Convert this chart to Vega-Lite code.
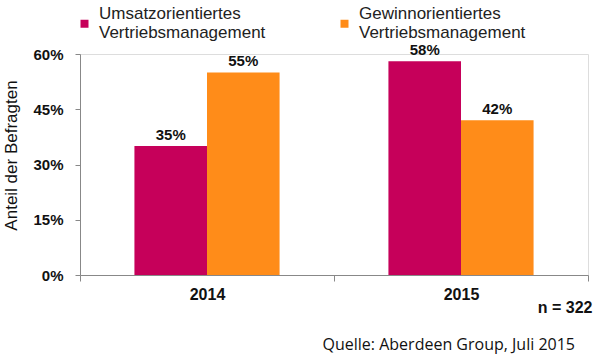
{
  "$schema": "https://vega.github.io/schema/vega-lite/v6.json",
  "width": 508,
  "height": 221,
  "autosize": {"type": "none"},
  "padding": {"left": 80, "top": 54, "right": 12, "bottom": 79},
  "background": "white",
  "title": {
    "text": "Quelle: Aberdeen Group, Juli 2015",
    "orient": "bottom",
    "anchor": "end",
    "frame": "group",
    "dx": -13,
    "font": "Open Sans",
    "fontSize": 16,
    "fontWeight": "normal",
    "color": "#111111",
    "offset": 22
  },
  "data": {
    "values": [
      {"Jahr": "2014", "Art": "Umsatzorientiertes Vertriebsmanagement", "Anteil": 0.35},
      {"Jahr": "2014", "Art": "Gewinnorientiertes Vertriebsmanagement", "Anteil": 0.55},
      {"Jahr": "2015", "Art": "Umsatzorientiertes Vertriebsmanagement", "Anteil": 0.58},
      {"Jahr": "2015", "Art": "Gewinnorientiertes Vertriebsmanagement", "Anteil": 0.42}
    ]
  },
  "encoding": {
    "x": {
      "field": "Jahr",
      "type": "nominal",
      "scale": {"paddingInner": 0, "paddingOuter": 0},
      "axis": {
        "title": "n = 322",
        "titleX": 512,
        "titleY": 37,
        "titleAlign": "right",
        "titleAnchor": null,
        "titleBaseline": "alphabetic",
        "titleFont": "Liberation Sans",
        "titleFontSize": 16,
        "titleFontWeight": "bold",
        "titleColor": "#111111",
        "labelAngle": 0,
        "labelFont": "Liberation Sans",
        "labelFontSize": 16,
        "labelFontWeight": "bold",
        "labelColor": "#111111",
        "labelPadding": 5,
        "tickBand": "extent",
        "tickSize": 6,
        "tickColor": "#888888",
        "domainColor": "#888888"
      }
    },
    "xOffset": {
      "field": "Art",
      "sort": ["Umsatzorientiertes Vertriebsmanagement", "Gewinnorientiertes Vertriebsmanagement"],
      "scale": {"paddingOuter": 0.75, "paddingInner": 0}
    },
    "y": {
      "field": "Anteil",
      "type": "quantitative",
      "scale": {"domain": [0, 0.6]},
      "axis": {
        "title": "Anteil der Befragten",
        "titleFont": "Liberation Sans",
        "titleFontSize": 17,
        "titleFontWeight": "normal",
        "titleColor": "#111111",
        "titleX": -60,
        "titleY": 101,
        "values": [0, 0.15, 0.3, 0.45, 0.6],
        "format": ".0%",
        "grid": false,
        "labelFont": "Liberation Sans",
        "labelFontSize": 15,
        "labelFontWeight": "bold",
        "labelColor": "#111111",
        "labelPadding": 12,
        "tickSize": 5,
        "tickColor": "#888888",
        "domainColor": "#888888"
      }
    }
  },
  "layer": [
    {
      "mark": {"type": "bar"},
      "encoding": {
        "color": {
          "field": "Art",
          "type": "nominal",
          "sort": ["Umsatzorientiertes Vertriebsmanagement", "Gewinnorientiertes Vertriebsmanagement"],
          "scale": {"range": ["#C6005A", "#FF8C19"]},
          "legend": {
            "title": null,
            "orient": "none",
            "legendX": -4,
            "legendY": -39,
            "direction": "horizontal",
            "columns": 2,
            "columnPadding": 70,
            "symbolType": "square",
            "symbolSize": 64,
            "symbolStrokeWidth": 0,
            "labelOffset": 6,
            "labelFont": "Liberation Sans",
            "labelFontSize": 17,
            "labelColor": "#222222",
            "labelLineHeight": 14,
            "labelBaseline": "line-bottom",
            "labelLimit": 300,
            "labelExpr": "split(datum.label, ' ')"
          }
        }
      }
    },
    {
      "mark": {
        "type": "text",
        "baseline": "alphabetic",
        "dy": -6,
        "font": "Liberation Sans",
        "fontSize": 15,
        "fontWeight": "bold",
        "color": "#111111"
      },
      "encoding": {
        "text": {"field": "Anteil", "format": ".0%"}
      }
    }
  ]
}
